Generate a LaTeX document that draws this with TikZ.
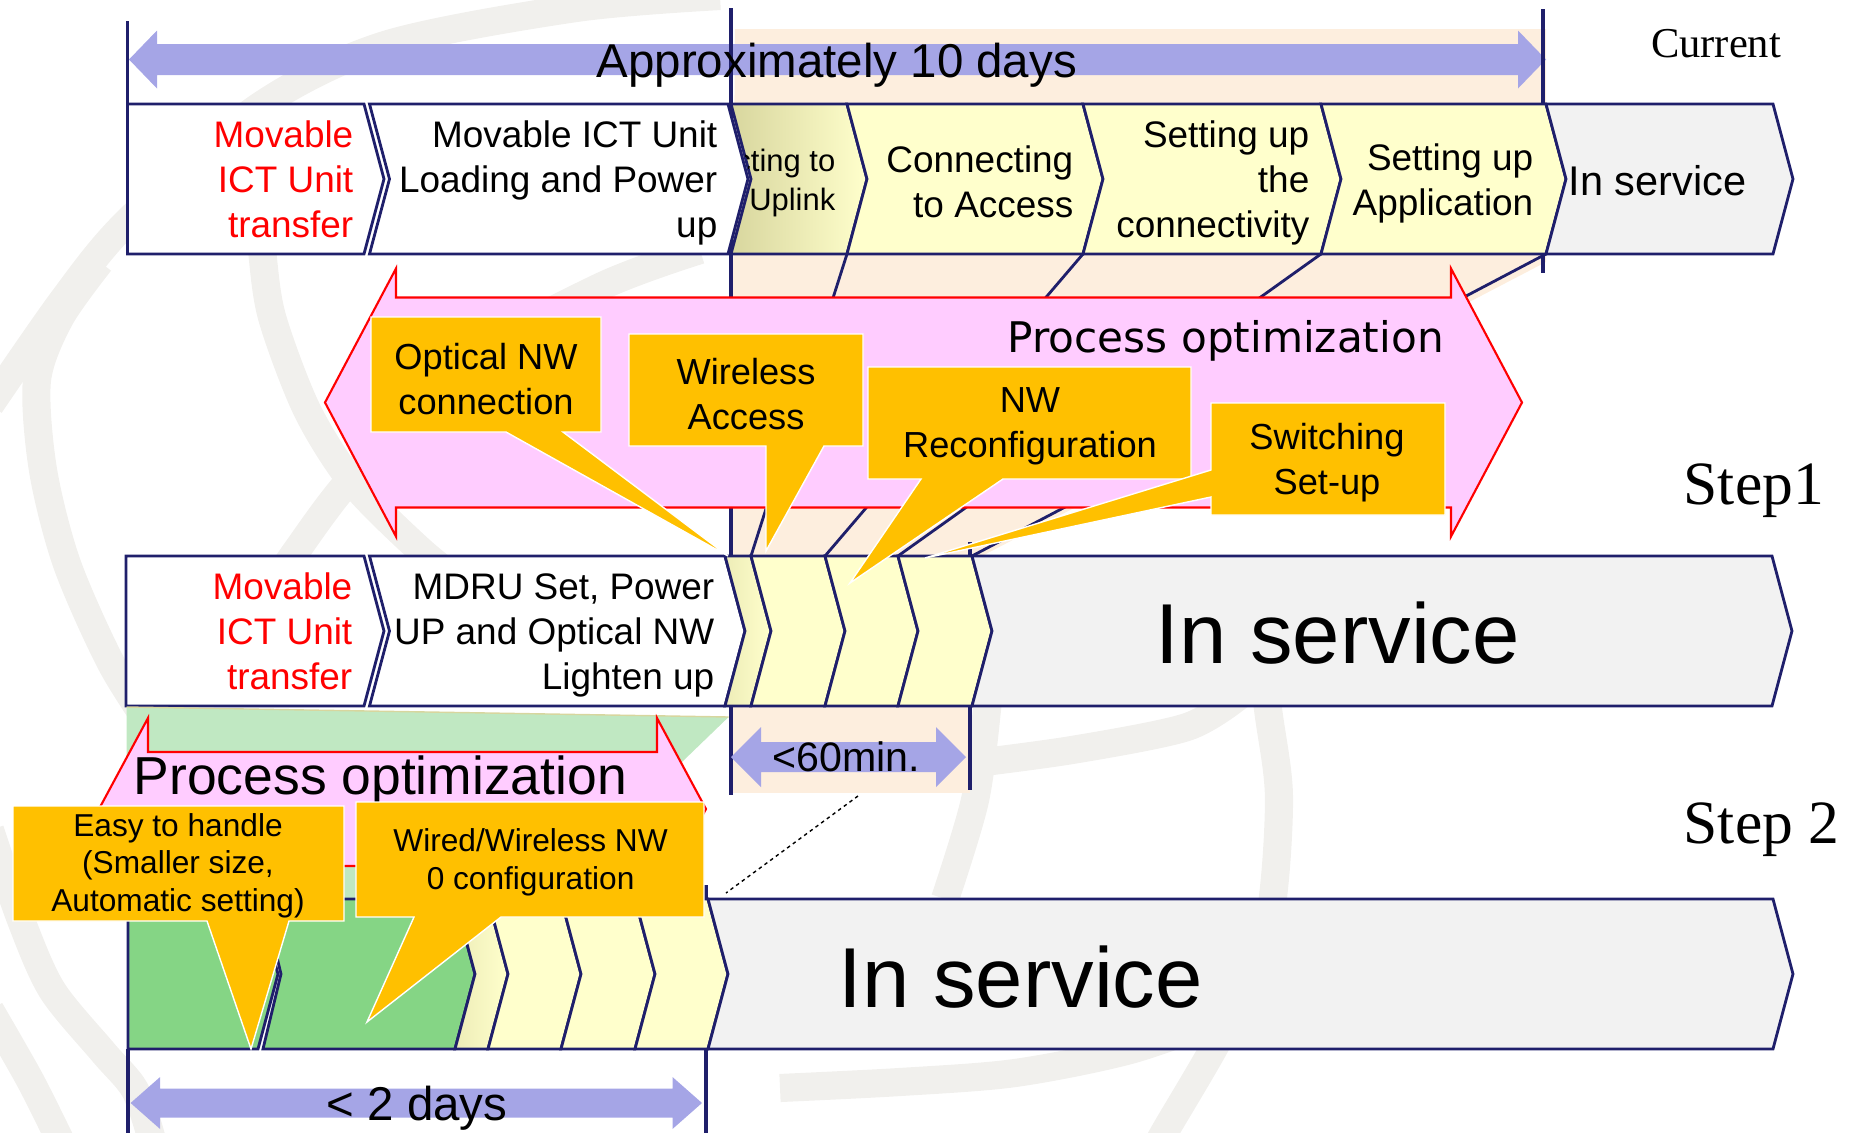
\documentclass[tikz,border=0pt]{standalone}
\usepackage{fontspec}
\setmainfont{Liberation Sans}
\newfontfamily\serifface{Liberation Serif}
\newfontfamily\wideface{DejaVu Sans}

\definecolor{navy}{RGB}{31,31,107}
\definecolor{lavender}{RGB}{165,165,230}
\definecolor{peach}{RGB}{253,238,222}
\definecolor{lemon}{RGB}{255,255,204}
\definecolor{olive}{RGB}{216,214,158}
\definecolor{svcgray}{RGB}{242,242,242}
\definecolor{pinkfill}{RGB}{255,204,255}
\definecolor{callout}{RGB}{255,192,0}
\definecolor{mint}{RGB}{192,232,194}
\definecolor{leaf}{RGB}{133,213,133}
\definecolor{wmgray}{RGB}{241,240,237}

% chevron stage: style, left x, right x, top y, notch depth (0 = flat left side)
\newcommand{\stagebox}[5]{%
  \path[#1] (#2,#4) -- (#3,#4) -- ++(20,75) -- ++(-20,75) -- (#2,#4+150) -- ++(#5,-75) -- cycle;}
% double headed block arrow: style, x1, x2, centre y, shaft half, head half, head length
\newcommand{\spanarrow}[7]{%
  \path[#1] (#2,#4) -- (#2+#7,#4-#6) -- (#2+#7,#4-#5) -- (#3-#7,#4-#5) -- (#3-#7,#4-#6) -- (#3,#4)
    -- (#3-#7,#4+#6) -- (#3-#7,#4+#5) -- (#2+#7,#4+#5) -- (#2+#7,#4+#6) -- cycle;}

\begin{document}
\begin{tikzpicture}[x=0.01cm, y=-0.01cm,
  globe/.style={draw=wmgray, line width=8pt},
  stage/.style={draw=navy, line width=0.8pt},
  timeline/.style={draw=navy, line width=1.1pt},
  link/.style={draw=navy, line width=0.8pt},
  span/.style={fill=lavender},
  optim/.style={fill=pinkfill, draw=red, line width=0.6pt},
  bubble/.style={fill=callout, draw=white, line width=0.4pt},
  boxtext/.style={inner sep=0pt, align=right, anchor=east, font=\fontsize{10.5}{12.8}\selectfont},
  bubbletext/.style={inner sep=0pt, align=center, font=\fontsize{10.3}{12.8}\selectfont},
  bigtext/.style={inner sep=0pt, anchor=base west, font=\fontsize{24.2}{28}\selectfont},
  steplabel/.style={inner sep=0pt, anchor=base west, font=\serifface\fontsize{17.5}{20}\selectfont}]

\useasboundingbox (0,0) rectangle (1856,1133);

% faint globe in the back
\draw[globe] plot[smooth] coordinates {(-10,405) (63,300) (127,222) (257,108) (385,45) (576,8) (720,-4)};
\draw[globe] plot[smooth] coordinates {(100,262) (60,318) (37,380) (43,470) (67,564) (112,665) (160,740)};
\draw[globe] plot[smooth] coordinates {(258,200) (262,250) (272,317) (307,410) (353,483) (420,550) (470,590)};
\draw[globe] plot[smooth] coordinates {(270,590) (297,550) (347,483) (450,370) (600,287) (700,250)};
\draw[globe] plot[smooth] coordinates {(-10,830) (21,920) (52,990) (103,1052) (135,1090) (152,1140)};
\draw[globe] plot[smooth] coordinates {(-10,1010) (30,1080) (60,1140)};
\draw[globe] plot[smooth] coordinates {(1255,560) (1267,700) (1279,800) (1267,933) (1222,1033) (1164,1133) (1150,1160)};
\draw[globe] plot[smooth] coordinates {(995,620) (988,700) (975,800) (945,899)};
\draw[globe] plot[smooth] coordinates {(960,765) (1072,750) (1187,727) (1240,695)};
\draw[globe] plot[smooth] coordinates {(780,1088) (900,1082) (1015,1073) (1130,1050) (1230,1015)};

% zoomed span behind the current process
\fill[peach] (735,29) -- (1546,29) -- (1546,262) -- (982,556) -- (731,556) -- cycle;
\fill[peach] (731,706) rectangle (970,793);

% overall duration
\spanarrow{span}{129}{1546}{59.5}{15.5}{29}{28}

\draw[timeline] (127.5,21) -- (127.5,254);
\draw[timeline] (731,8) -- (731,795);
\draw[timeline] (1543,9) -- (1543,273);
\draw[timeline] (970,542) -- (970,790);
\draw[timeline] (706,885) -- (706,1133);
\draw[timeline] (128,1049) -- (128,1133);

\node[inner sep=0pt, anchor=base west, font=\fontsize{13.5}{16}\selectfont] (tendays) at (596,77) {Approximately 10 days};

% stage borders carried down to step 1
\foreach \a/\b in {847/751, 1083/825, 1321/898, 1546/972}
  \draw[link] (\a,254) -- (\b,556);

% current process
\stagebox{stage, fill=white}{127.5}{364}{104}{0}
\stagebox{stage, fill=white}{369.5}{728}{104}{20}
\stagebox{stage, left color=olive, right color=lemon}{731}{847}{104}{20}
\stagebox{stage, fill=lemon}{847}{1083}{104}{20}
\stagebox{stage, fill=lemon}{1083}{1321}{104}{20}
\stagebox{stage, fill=lemon}{1321}{1546}{104}{20}
\stagebox{stage, fill=svcgray}{1546}{1773}{104}{20}

\node[boxtext, text=red] (transfer0) at (354,179) {Movable\\ICT Unit\\transfer};
\node[boxtext] (loading) at (718,183.3) {Movable ICT Unit\\Loading and Power\\up};
\begin{scope}
  \clip (731,104) -- (847,104) -- ++(20,75) -- ++(-20,75) -- (731,254) -- ++(20,-75) -- cycle;
  \node[boxtext, font=\fontsize{8.8}{11}\selectfont] (uplink) at (836,183) {Connecting to\\Uplink};
\end{scope}
\node[boxtext] (access) at (1074,182) {Connecting\\to Access};
\node[boxtext] (connectivity) at (1310,183.3) {Setting up\\the\\connectivity};
\node[boxtext] (application) at (1534,183.3) {Setting up\\Application};
\node[inner sep=0pt, anchor=base west, font=\fontsize{11.8}{14}\selectfont] (service0) at (1568,195) {In service};

% step 1
\stagebox{stage, fill=white}{126}{364}{556}{0}
\stagebox{stage, fill=white}{369.5}{725}{556}{20}
\stagebox{stage, left color=olive!45!lemon, right color=lemon}{725}{751}{556}{20}
\stagebox{stage, fill=lemon}{751}{825}{556}{20}
\stagebox{stage, fill=lemon}{825}{898}{556}{20}
\stagebox{stage, fill=lemon}{898}{972}{556}{20}
\stagebox{stage, fill=svcgray}{972}{1772}{556}{20}

\node[boxtext, text=red] (transfer1) at (353,631.2) {Movable\\ICT Unit\\transfer};
\node[boxtext] (mdru) at (715,635) {MDRU Set, Power\\UP and Optical NW\\Lighten up};
\node[bigtext] (service1) at (1155,663) {In service};

% one hour span
\spanarrow{span}{731}{966}{757}{15}{30}{30}
\node[inner sep=0pt, anchor=base west, font=\fontsize{11.7}{14}\selectfont] (hour) at (772,771.7) {<60min.};
\coordinate (hourfoot) at (858,796);
\coordinate (step2head) at (726,893);
\draw[dashed, dash pattern=on 1pt off 1pt, line width=0.4pt] (hourfoot) -- (step2head);

% step 2
\fill[mint] (126.5,707) -- (728.6,717) -- (540,899) -- (126.5,899) -- cycle;
\draw[olive, line width=0.4pt] (126.5,707) -- (728.6,717);

\stagebox{stage, fill=leaf}{128}{258}{899}{0}
\stagebox{stage, fill=leaf}{263}{455}{899}{18}
\stagebox{stage, left color=olive!45!lemon, right color=lemon}{455}{488}{899}{20}
\stagebox{stage, fill=lemon}{488}{561}{899}{20}
\stagebox{stage, fill=lemon}{561}{635}{899}{20}
\stagebox{stage, fill=lemon}{635}{708}{899}{20}
\stagebox{stage, fill=svcgray}{708}{1773}{899}{20}
\node[bigtext] (service2) at (838,1007) {In service};

\spanarrow{span}{130.6}{702}{1103}{14.5}{26}{29.5}
\node[inner sep=0pt, anchor=base west, font=\fontsize{13.5}{16}\selectfont] (twodays) at (326,1120) {< 2 days};

% optimization arrows
\spanarrow{optim}{325}{1522}{402.5}{105}{134}{71}
\node[inner sep=0pt, anchor=base west, font=\wideface\fontsize{12}{14}\selectfont] (optim1) at (1007,352) {Process optimization};
\spanarrow{optim}{99}{706}{809}{57}{91}{49}
\node[inner sep=0pt, anchor=base west, font=\fontsize{15.2}{18}\selectfont] (optim2) at (133,794) {Process optimization};

% callouts
\path[bubble] (371,317) -- (601,317) -- (601,432) -- (563,432) -- (728,556) -- (506,432) -- (371,432) -- cycle;
\path[bubble] (629,334) -- (863,334) -- (863,446) -- (824,446) -- (766,551) -- (766,446) -- (629,446) -- cycle;
\path[bubble] (868,367) -- (1191,367) -- (1191,479) -- (1003,479) -- (850,583) -- (921,479) -- (868,479) -- cycle;
\path[bubble] (1211,403) -- (1445,403) -- (1445,515) -- (1211,515) -- (1211,497) -- (925,558) -- (1211,470) -- cycle;
\path[bubble] (13,806) -- (344,806) -- (344,921) -- (289,921) -- (251,1049) -- (207,921) -- (13,921) -- cycle;
\path[bubble] (356,802) -- (704,802) -- (704,917) -- (501,917) -- (367,1022) -- (414,917) -- (356,917) -- cycle;

\node[bubbletext] (optical) at (486,379) {Optical NW\\connection};
\node[bubbletext] (wireless) at (746,394.5) {Wireless\\Access};
\node[bubbletext] (reconf) at (1030,426.5) {NW\\Reconfiguration};
\node[bubbletext] (switching) at (1327,462.5) {Switching\\Set-up};
\node[bubbletext, font=\fontsize{9}{10.7}\selectfont] (easy) at (178,865.5) {Easy to handle\\(Smaller size,\\Automatic setting)};
\node[bubbletext, font=\fontsize{9}{10.7}\selectfont] (wired) at (530.6,862.5) {Wired/Wireless NW\\0 configuration};

% row labels
\node[inner sep=0pt, anchor=base, font=\serifface\fontsize{12.1}{14}\selectfont] (current) at (1716,57) {Current};
\node[steplabel] (step1) at (1683,504) {Step1};
\node[steplabel] (step2) at (1683,843) {Step 2};
\end{tikzpicture}
\end{document}
